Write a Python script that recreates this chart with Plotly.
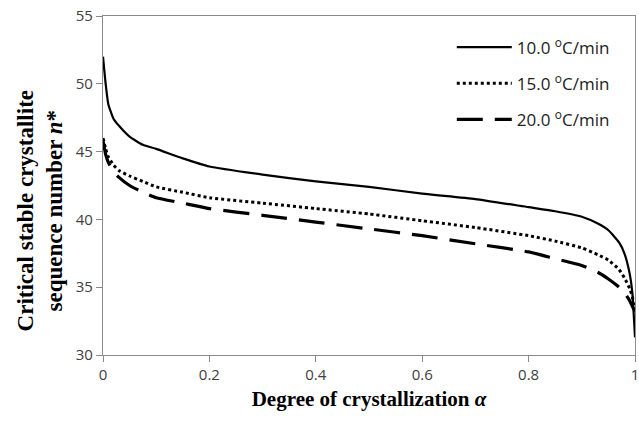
import plotly.graph_objects as go

alpha = [0, 0.005, 0.01, 0.02, 0.03, 0.05, 0.075, 0.1, 0.15, 0.2, 0.3, 0.4, 0.5,
         0.6, 0.7, 0.8, 0.85, 0.9, 0.93, 0.95, 0.97, 0.98, 0.99, 0.995, 1.0]
n_10 = [52.0, 50.0, 48.5, 47.4, 46.9, 46.1, 45.5, 45.2, 44.5, 43.9, 43.3, 42.8, 42.4,
        41.9, 41.5, 40.9, 40.6, 40.2, 39.7, 39.2, 38.3, 37.5, 36.0, 34.6, 31.3]
n_15 = [46.0, 45.2, 44.6, 44.0, 43.6, 43.2, 42.8, 42.4, 42.0, 41.6, 41.2, 40.8, 40.4,
        39.9, 39.4, 38.8, 38.4, 37.9, 37.4, 37.0, 36.3, 35.7, 34.9, 34.3, 33.0]
n_20 = [45.8, 44.8, 44.2, 43.5, 43.1, 42.5, 42.0, 41.6, 41.2, 40.8, 40.3, 39.8, 39.3,
        38.8, 38.2, 37.6, 37.1, 36.6, 36.1, 35.6, 35.0, 34.6, 34.0, 33.6, 33.2]
series_names = ["10.0 <sup>o</sup>C/min", "15.0 <sup>o</sup>C/min", "20.0 <sup>o</sup>C/min"]
x_ticks = [0, 0.2, 0.4, 0.6, 0.8, 1]
x_tick_labels = ["0", "0.2", "0.4", "0.6", "0.8", "1"]
y_ticks = [30, 35, 40, 45, 50, 55]
x_title = "<b>Degree of crystallization <i>α</i></b>"
y_title = "<b>Critical stable crystallite<br>sequence number <i>n</i>*</b>"

fig = go.Figure()
styles = [("solid", 2.2), ("dot", 3), ("26px,12px", 3.2)]
for i, (name, ys, (dash, w)) in enumerate(zip(series_names, [n_10, n_15, n_20], styles)):
    fig.add_trace(go.Scatter(x=alpha, y=ys, mode="lines", name=name, legendgroup=f"g{i}",
                             line=dict(color="black", width=w, dash=dash, shape="spline", smoothing=0.5)))

axis_common = dict(showline=True, linecolor="#8a8a8a", linewidth=1.3, mirror=True,
                   showgrid=False, zeroline=False, ticks="outside", ticklen=6,
                   tickcolor="#8a8a8a", tickwidth=1.3, automargin=False,
                   ticklabeloverflow="allow",
                   tickfont=dict(family="Open Sans, sans-serif", size=15, color="#404040"))

fig.update_xaxes(range=[0, 1], tickvals=x_ticks, ticktext=x_tick_labels,
                 title=dict(text=x_title,
                            font=dict(family="Liberation Serif, serif", size=21, color="black"),
                            standoff=8),
                 **axis_common)
fig.update_yaxes(range=[30, 55], tickvals=y_ticks, **axis_common)

fig.add_annotation(text=y_title, xref="paper", yref="paper", x=0, y=0.425,
                   xanchor="right", yanchor="middle", xshift=-33, textangle=-90,
                   showarrow=False, align="center",
                   font=dict(family="Liberation Serif, serif", size=23, color="black"))

fig.update_layout(
    width=639, height=422,
    margin=dict(l=103, r=4, t=16, b=67),
    plot_bgcolor="white", paper_bgcolor="white",
    showlegend=True,
    legend=dict(x=0.962, y=0.96, xanchor="right", yanchor="top",
                font=dict(family="Open Sans, sans-serif", size=17, color="#222222"),
                bgcolor="rgba(0,0,0,0)", tracegroupgap=11, itemwidth=55),
)

fig.write_html("out.html", config={"displayModeBar": False},
               post_script="document.body.style.margin='0';document.body.style.overflow='hidden';")
